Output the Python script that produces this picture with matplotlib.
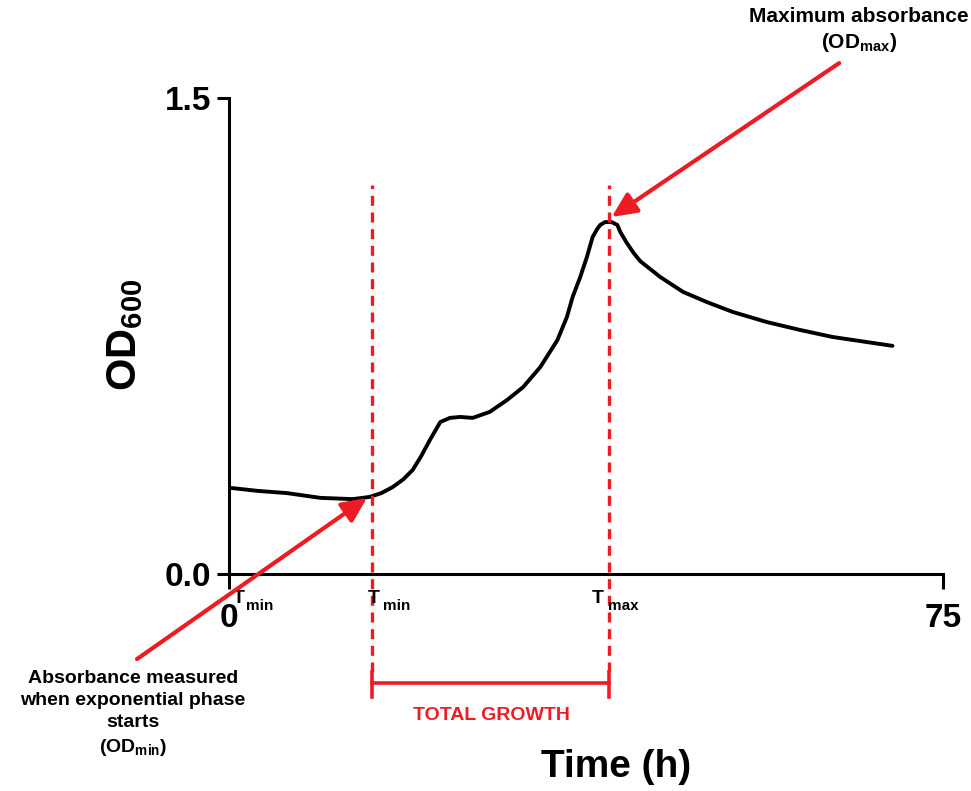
import matplotlib
matplotlib.use("Agg")
import matplotlib.pyplot as plt

plt.rcParams["font.family"] = "Liberation Sans"
plt.rcParams["mathtext.fontset"] = "custom"
plt.rcParams["mathtext.rm"] = "Liberation Sans"
plt.rcParams["mathtext.bf"] = "Liberation Sans:bold"

RED = "#ed1c24"

# growth curve (time in hours, optical density at 600 nm)
time_h = [0.3, 3.0, 6.1, 9.6, 13.0, 14.8, 16.0, 17.2, 18.3, 19.3, 20.2, 21.1,
          22.2, 23.2, 24.3, 25.6, 27.4, 29.2, 30.9, 32.7, 34.5, 35.5, 36.1,
          36.9, 37.6, 38.2, 38.7, 39.0, 39.5, 40.2, 40.8, 41.1, 41.8, 42.5,
          43.2, 45.3, 47.7, 50.2, 52.9, 56.5, 60.0, 63.4, 67.0, 69.7]
od600 = [0.271, 0.262, 0.255, 0.240, 0.236, 0.243, 0.255, 0.274, 0.298, 0.328,
         0.372, 0.422, 0.479, 0.492, 0.495, 0.492, 0.511, 0.548, 0.589, 0.652,
         0.737, 0.810, 0.873, 0.936, 0.999, 1.062, 1.088, 1.100, 1.109, 1.109,
         1.100, 1.078, 1.043, 1.012, 0.986, 0.936, 0.889, 0.857, 0.826, 0.794,
         0.769, 0.747, 0.731, 0.719]

t_start = 0.0
t_min = 15.0
t_max = 39.9
od_min_point = (14.5, 0.240)
od_max_point = (40.2, 1.125)

x_ticks = [0, 75]
x_tick_labels = ["0", "75"]
y_ticks = [0.0, 1.5]
y_tick_labels = ["0.0", "1.5"]


def fig_xy(px, py):
    # pixel position (from top-left) -> figure fraction
    return px / 971, 1 - py / 791


fig = plt.figure(figsize=(9.71, 7.91), dpi=100)
ax = fig.add_axes([0.2358, 0.2743, 0.7353, 0.6018])

ax.plot(time_h, od600, color="black", lw=2.8, solid_joinstyle="round",
        solid_capstyle="round")

ax.set_xlim(0, 75)
ax.set_ylim(0, 1.5)
ax.set_xticks(x_ticks)
ax.set_xticklabels(x_tick_labels)
ax.set_yticks(y_ticks)
ax.set_yticklabels(y_tick_labels)
for side in ["top", "right"]:
    ax.spines[side].set_visible(False)
for side in ["left", "bottom"]:
    ax.spines[side].set_linewidth(2.2)
ax.tick_params(axis="y", length=9, width=2.2, pad=4, labelsize=24)
ax.tick_params(axis="x", length=11, width=2.2, pad=10, labelsize=24)
for lab in ax.get_xticklabels() + ax.get_yticklabels():
    lab.set_fontweight("bold")

# phase markers
for t in [t_min, t_max]:
    ax.plot([t, t], [-0.31, 1.226], color=RED, lw=2.4, ls=(0, (3, 2)),
            clip_on=False)
    ax.plot([t, t], [-0.31, -0.388], color=RED, lw=2.6, clip_on=False)
ax.plot([t_min, t_max], [-0.344, -0.344], color=RED, lw=2.6, clip_on=False)

# T labels under the axis
t_labels = [(t_start, "min", 4, 17), (t_min, "min", -4, 11), (t_max, "max", -17, -1)]
for t, sub, dx_t, dx_sub in t_labels:
    ax.annotate("T", xy=(t, 0), xytext=(dx_t, -29), textcoords="offset pixels",
                fontsize=14, fontweight="bold", ha="left", va="baseline",
                annotation_clip=False)
    ax.annotate(sub, xy=(t, 0), xytext=(dx_sub, -36), textcoords="offset pixels",
                fontsize=11, fontweight="bold", ha="left", va="baseline",
                annotation_clip=False)

arrow_style = dict(arrowstyle="-|>,head_length=0.75,head_width=0.35",
                   color=RED, lw=3, mutation_scale=20, shrinkA=0, shrinkB=0)
ax.annotate("", xy=od_min_point, xytext=(-9.66, -0.268),
            arrowprops=arrow_style, annotation_clip=False)
ax.annotate("", xy=od_max_point, xytext=(64.1, 1.610),
            arrowprops=arrow_style, annotation_clip=False)

fig.text(*fig_xy(859, 17), "Maximum absorbance", fontsize=15, fontweight="bold",
         ha="center", va="center")
fig.text(*fig_xy(859, 43), r"(OD$_{\mathbf{max}}$)", fontsize=15,
         fontweight="bold", ha="center", va="center")
fig.text(*fig_xy(133, 714),
         "Absorbance measured\nwhen exponential phase\nstarts\n"
         r"(OD$_{\mathbf{min}}$)",
         fontsize=14, fontweight="bold", ha="center", va="center",
         linespacing=1.4)
fig.text(*fig_xy(491, 716), "TOTAL GROWTH", fontsize=14, fontweight="bold",
         color=RED, ha="center", va="center")

fig.text(*fig_xy(616, 767), "Time (h)", fontsize=28, fontweight="bold",
         ha="center", va="center")
fig.text(*fig_xy(125, 335), r"$\mathbf{OD_{600}}$", fontsize=30,
         rotation=90, ha="center", va="center")

fig.savefig("out.png", dpi=100)
